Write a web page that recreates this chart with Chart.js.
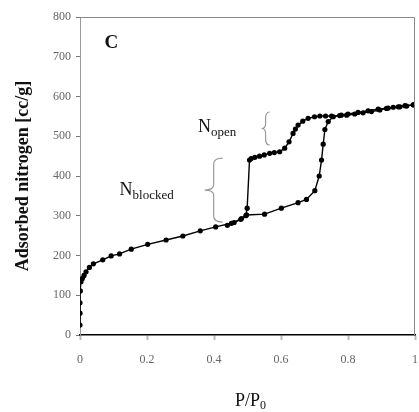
<!DOCTYPE html>
<html>
<head>
<meta charset="utf-8">
<script src="https://cdn.jsdelivr.net/npm/chart.js@4.4.0/dist/chart.umd.min.js"></script>
<style>
  html, body { margin:0; padding:0; background:#fff; overflow:hidden; }
  canvas { display:block; }
</style>
</head>
<body>
<canvas id="isotherm" width="419" height="412"></canvas>
<script>
// ---------- DATA ----------
const xTicks = [0, 0.2, 0.4, 0.6, 0.8, 1];
const yTicks = [0, 100, 200, 300, 400, 500, 600, 700, 800];

// adsorption branch (lower)
const adsX = [0.0, 0.0, 0.0, 0.001, 0.003, 0.007, 0.012, 0.018, 0.028, 0.04, 0.068, 0.093, 0.118, 0.153, 0.202, 0.257, 0.307, 0.359, 0.405, 0.452, 0.482, 0.497, 0.551, 0.601, 0.651, 0.676, 0.701, 0.714, 0.721, 0.726, 0.731, 0.741, 0.756, 0.78, 0.80, 0.83, 0.86, 0.89, 0.92, 0.95, 0.97, 0.995];
const adsY = [25, 55, 81, 111, 134, 142, 150, 159, 170, 179, 189, 199, 204, 216, 228, 239, 249, 262, 272, 281, 293, 302, 304, 319, 333, 341, 363, 400, 440, 480, 517, 537, 549, 553, 556, 560, 564, 568, 571, 574, 577, 579];

// desorption branch (upper)
const desX = [0.995, 0.975, 0.955, 0.935, 0.915, 0.895, 0.87, 0.845, 0.82, 0.796, 0.775, 0.751, 0.733, 0.716, 0.70, 0.681, 0.665, 0.651, 0.643, 0.636, 0.624, 0.611, 0.596, 0.58, 0.566, 0.55, 0.536, 0.522, 0.511, 0.506, 0.499, 0.495, 0.48, 0.46, 0.44];
const desY = [579, 576, 574, 573, 570, 566, 562, 559, 556, 553, 552, 551, 551, 551, 549, 545, 538, 528, 518, 507, 486, 470, 461, 459, 457, 453, 450, 447, 444, 440, 319, 300, 291, 283, 276];

const pts = (xs, ys) => xs.map((x, i) => ({ x: x, y: ys[i] }));

const SERIF = '"Liberation Serif", "DejaVu Serif", serif';

// frame + text annotations + braces (placed in data units)
const decor = {
  id: 'decor',
  afterDraw(chart) {
    const { ctx, chartArea: a, scales: { x, y } } = chart;
    ctx.save();
    // top / right frame, grey
    ctx.strokeStyle = '#888'; ctx.lineWidth = 1;
    ctx.beginPath();
    ctx.moveTo(a.left, a.top + 0.5); ctx.lineTo(a.right - 0.5, a.top + 0.5); ctx.lineTo(a.right - 0.5, a.bottom);
    ctx.stroke();

    // braces
    const brace = (xv0, xv1, yTop, yBot) => {
      const xl = x.getPixelForValue(xv0), xr = x.getPixelForValue(xv1);
      const t = y.getPixelForValue(yTop), b = y.getPixelForValue(yBot), m = (t + b) / 2;
      const xm = (xl + xr) / 2;
      ctx.beginPath();
      ctx.moveTo(xr, t);
      ctx.quadraticCurveTo(xm, t, xm, t + 6);
      ctx.lineTo(xm, m - 5);
      ctx.quadraticCurveTo(xm, m, xl, m);
      ctx.quadraticCurveTo(xm, m, xm, m + 5);
      ctx.lineTo(xm, b - 6);
      ctx.quadraticCurveTo(xm, b, xr, b);
      ctx.stroke();
    };
    ctx.strokeStyle = '#999'; ctx.lineWidth = 1.2;
    brace(0.372, 0.426, 445, 284);
    brace(0.542, 0.566, 561, 478);

    // labels
    ctx.fillStyle = '#111';
    ctx.textBaseline = 'alphabetic';
    const sub = (main, s, xv, yv, big, small) => {
      let px = x.getPixelForValue(xv), py = y.getPixelForValue(yv);
      ctx.font = big + 'px ' + SERIF;
      ctx.fillText(main, px, py);
      px += ctx.measureText(main).width;
      ctx.font = small + 'px ' + SERIF;
      ctx.fillText(s, px, py + 4);
    };
    sub('N', 'open', 0.352, 510, 18, 13);
    sub('N', 'blocked', 0.118, 352, 18, 13);

    ctx.font = 'bold 19px ' + SERIF;
    ctx.fillText('C', x.getPixelForValue(0.073), y.getPixelForValue(723));

    // x title P/P0, centred under the plot
    ctx.font = '18px ' + SERIF;
    const w1 = ctx.measureText('P/P').width;
    ctx.font = '12px ' + SERIF;
    const w2 = ctx.measureText('0').width;
    const tx = (a.left + a.right) / 2 + 3 - (w1 + w2) / 2, ty = 406;
    ctx.font = '18px ' + SERIF;
    ctx.fillText('P/P', tx, ty);
    ctx.font = '12px ' + SERIF;
    ctx.fillText('0', tx + w1, ty + 3);
    ctx.restore();
  }
};

new Chart(document.getElementById('isotherm'), {
  type: 'scatter',
  data: {
    datasets: [
      {
        label: 'Adsorption',
        data: pts(adsX, adsY),
        showLine: true,
        borderColor: '#000',
        backgroundColor: '#000',
        borderWidth: 1.4,
        pointRadius: 2.6,
        pointBorderWidth: 0
      },
      {
        label: 'Desorption',
        data: pts(desX, desY),
        showLine: true,
        borderColor: '#000',
        backgroundColor: '#000',
        borderWidth: 1.4,
        pointRadius: 2.6,
        pointBorderWidth: 0
      }
    ]
  },
  options: {
    responsive: false,
    animation: false,
    devicePixelRatio: 1,
    layout: { padding: { top: 17, right: 4, left: 0, bottom: 0 } },
    plugins: { legend: { display: false }, tooltip: { enabled: false } },
    scales: {
      x: {
        type: 'linear',
        min: 0, max: 1,
        afterBuildTicks: s => { s.ticks = xTicks.map(v => ({ value: v })); },
        afterFit: s => { s.height = 77; s.paddingRight = 0; s.paddingLeft = 0; },
        ticks: {
          color: '#666',
          font: { family: SERIF, size: 12 },
          padding: 13,
          maxRotation: 0,
          callback: v => String(v)
        },
        grid: { drawOnChartArea: false, tickLength: 5, color: '#bbb', tickWidth: 2 },
        border: { color: '#000', width: 1.5 }
      },
      y: {
        type: 'linear',
        min: 0, max: 800,
        afterBuildTicks: s => { s.ticks = yTicks.map(v => ({ value: v })); },
        afterFit: s => { s.width = 80; s.paddingTop = 0; s.paddingBottom = 0; },
        ticks: {
          color: '#666',
          font: { family: SERIF, size: 12 },
          padding: 5
        },
        grid: { drawOnChartArea: false, tickLength: 4, color: '#777' },
        border: { color: '#999', width: 1 },
        title: {
          display: true,
          text: 'Adsorbed nitrogen [cc/g]',
          color: '#111',
          font: { family: SERIF, size: 18, weight: 'bold' },
          padding: { top: 13, bottom: 0 }
        }
      }
    }
  },
  plugins: [decor]
});
</script>
</body>
</html>
